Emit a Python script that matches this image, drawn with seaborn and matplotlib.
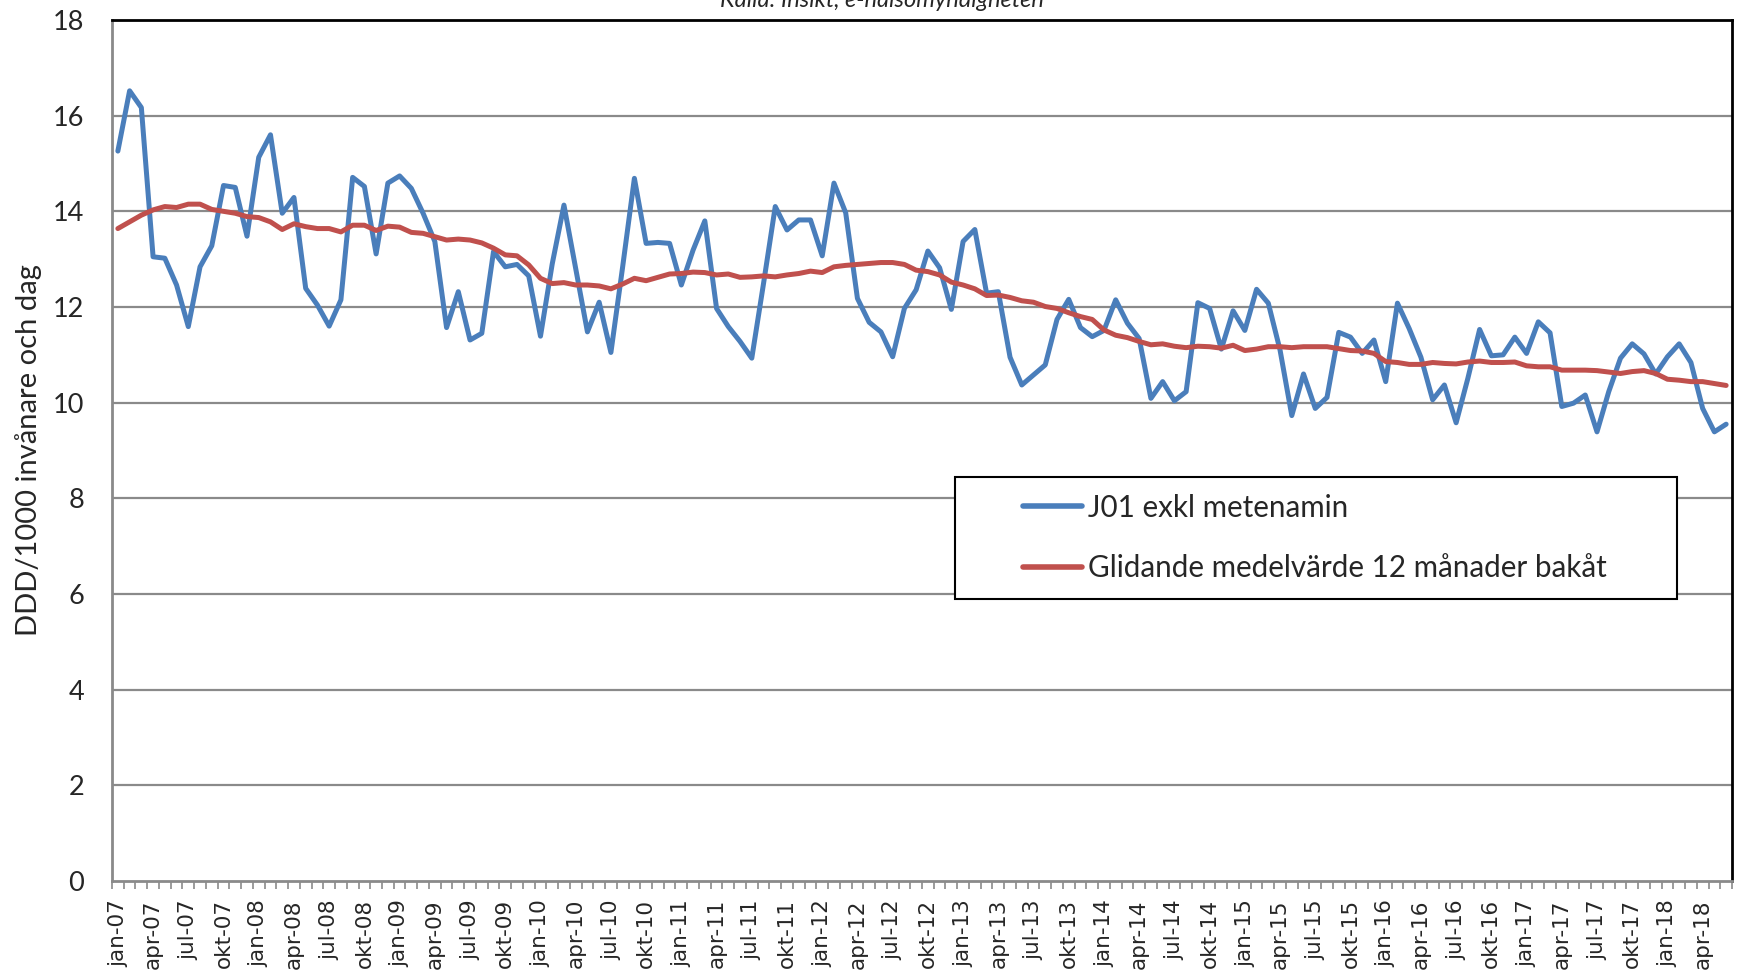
import matplotlib
matplotlib.use("Agg")
import matplotlib.pyplot as plt
from matplotlib.patches import Rectangle
import numpy as np
import pandas as pd
import seaborn as sns

# monthly values jan-07 .. jun-18
j01 = [
    15.26, 16.52, 16.17, 13.05, 13.02, 12.46, 11.59, 12.84, 13.28, 14.54, 14.50, 13.48,  # 2007
    15.13, 15.60, 13.96, 14.29, 12.39, 12.04, 11.60, 12.15, 14.71, 14.52, 13.11, 14.59,  # 2008
    14.74, 14.48, 13.96, 13.37, 11.57, 12.32, 11.31, 11.45, 13.16, 12.84, 12.89, 12.65,  # 2009
    11.39, 12.90, 14.13, 12.80, 11.48, 12.10, 11.05, 12.84, 14.69, 13.33, 13.35, 13.33,  # 2010
    12.46, 13.19, 13.80, 11.97, 11.59, 11.28, 10.93, 12.49, 14.10, 13.61, 13.82, 13.82,  # 2011
    13.07, 14.59, 13.97, 12.18, 11.68, 11.48, 10.96, 11.97, 12.36, 13.17, 12.82, 11.95,  # 2012
    13.37, 13.62, 12.29, 12.32, 10.95, 10.37, 10.58, 10.79, 11.74, 12.16, 11.57, 11.38,  # 2013
    11.51, 12.15, 11.66, 11.34, 10.09, 10.44, 10.04, 10.23, 12.09, 11.97, 11.12, 11.92,  # 2014
    11.51, 12.37, 12.08, 11.10, 9.73, 10.60, 9.88, 10.11, 11.47, 11.37, 11.03, 11.31,    # 2015
    10.44, 12.08, 11.55, 10.95, 10.06, 10.37, 9.58, 10.51, 11.53, 10.98, 11.00, 11.37,   # 2016
    11.03, 11.69, 11.46, 9.92, 9.99, 10.16, 9.39, 10.23, 10.93, 11.23, 11.02, 10.60,     # 2017
    10.96, 11.23, 10.84, 9.88, 9.39, 9.55,                                               # 2018
]
rolling12 = [
    13.64, 13.78, 13.92, 14.03, 14.10, 14.08, 14.15, 14.15, 14.04, 14.00, 13.96, 13.89,
    13.87, 13.78, 13.62, 13.74, 13.68, 13.64, 13.64, 13.57, 13.71, 13.71, 13.60, 13.69,
    13.67, 13.56, 13.54, 13.47, 13.40, 13.42, 13.40, 13.34, 13.23, 13.09, 13.07, 12.88,
    12.60, 12.49, 12.51, 12.46, 12.46, 12.44, 12.38, 12.48, 12.60, 12.55, 12.62, 12.69,
    12.70, 12.73, 12.72, 12.67, 12.69, 12.62, 12.63, 12.65, 12.63, 12.67, 12.70, 12.75,
    12.72, 12.84, 12.87, 12.89, 12.91, 12.93, 12.93, 12.89, 12.77, 12.74, 12.67, 12.52,
    12.46, 12.38, 12.24, 12.25, 12.20, 12.13, 12.10, 12.01, 11.97, 11.88, 11.80, 11.74,
    11.52, 11.41, 11.36, 11.28, 11.21, 11.23, 11.18, 11.15, 11.18, 11.17, 11.14, 11.20,
    11.09, 11.12, 11.17, 11.17, 11.15, 11.17, 11.17, 11.17, 11.13, 11.09, 11.08, 11.03,
    10.86, 10.84, 10.80, 10.80, 10.84, 10.82, 10.81, 10.85, 10.87, 10.84, 10.84, 10.85,
    10.77, 10.75, 10.75, 10.68, 10.68, 10.68, 10.67, 10.64, 10.61, 10.65, 10.67, 10.61,
    10.49, 10.47, 10.44, 10.44, 10.40, 10.36,
]
month_names = ["jan", "feb", "mar", "apr", "maj", "jun", "jul", "aug", "sep", "okt", "nov", "dec"]
years = list(range(7, 19))
series_names = ["J01 exkl metenamin", "Glidande medelvärde 12 månader bakåt"]
y_ticks = [0, 2, 4, 6, 8, 10, 12, 14, 16, 18]

months = [f"{m}-{y:02d}" for y in years for m in month_names][: len(j01)]
df = pd.DataFrame({"month": np.arange(len(j01)), "j01": j01, "r12": rolling12})

sns.set_style("white")
plt.rcParams["font.family"] = ["Lato", "DejaVu Sans"]

fig = plt.figure(figsize=(17.38, 9.72), dpi=100)
ax = fig.add_axes([0.06444, 0.09362, 0.93211, 0.88580])

blue = "#4A7EBB"
red = "#C0504D"
sns.lineplot(data=df, x="month", y="j01", ax=ax, color=blue, lw=3.6, zorder=3)
sns.lineplot(data=df, x="month", y="r12", ax=ax, color=red, lw=3.6, zorder=4)

ax.set_xlim(-0.5, len(j01) - 0.5)
ax.set_ylim(0, 18)
ax.set_yticks(y_ticks)
ax.set_yticklabels([str(v) for v in y_ticks], fontsize=19.5)
ax.tick_params(axis="y", length=0, pad=20)
for v in y_ticks[1:-1]:
    ax.axhline(v, color="#8a8a8a", lw=1.6, zorder=1)

ax.set_xticks(df["month"][::3])
ax.set_xticklabels(months[::3], rotation=90, fontsize=15.5, family="DejaVu Sans")
ax.set_xticks(np.arange(-0.5, len(j01)), minor=True)
ax.tick_params(axis="x", which="major", length=0, pad=13)
ax.tick_params(axis="x", which="minor", length=6, width=1.2, color="#8a8a8a",
               direction="out", bottom=True)

ax.set_xlabel("")
ax.set_ylabel("DDD/1000 invånare och dag", fontsize=21, labelpad=8)

for side in ["left", "bottom"]:
    ax.spines[side].set_color("#8a8a8a")
    ax.spines[side].set_linewidth(2)
for side in ["top", "right"]:
    ax.spines[side].set_color("black")
    ax.spines[side].set_linewidth(2)

fig.text(882 / 1738, 1 - 7 / 972, "Källa: Insikt, e-hälsomyndigheten",
         ha="center", va="baseline", fontsize=17, style="italic")

# legend box
box = Rectangle((955 / 1738, 1 - 599 / 972), (1677 - 955) / 1738, (599 - 477) / 972,
                transform=fig.transFigure, facecolor="white", edgecolor="black",
                lw=1.5, zorder=5)
ax.add_patch(box)
handles = [plt.Line2D([], [], color=blue, lw=4), plt.Line2D([], [], color=red, lw=4)]
leg = ax.legend(handles, series_names, loc="center left",
                bbox_to_anchor=(1023 / 1738, 1 - 538 / 972), bbox_transform=fig.transFigure,
                frameon=False, borderpad=0, borderaxespad=0, handlelength=2.0,
                handletextpad=0.2, labelspacing=1.1, fontsize=21.3)
leg.set_zorder(6)

fig.savefig("out.png", dpi=100)
